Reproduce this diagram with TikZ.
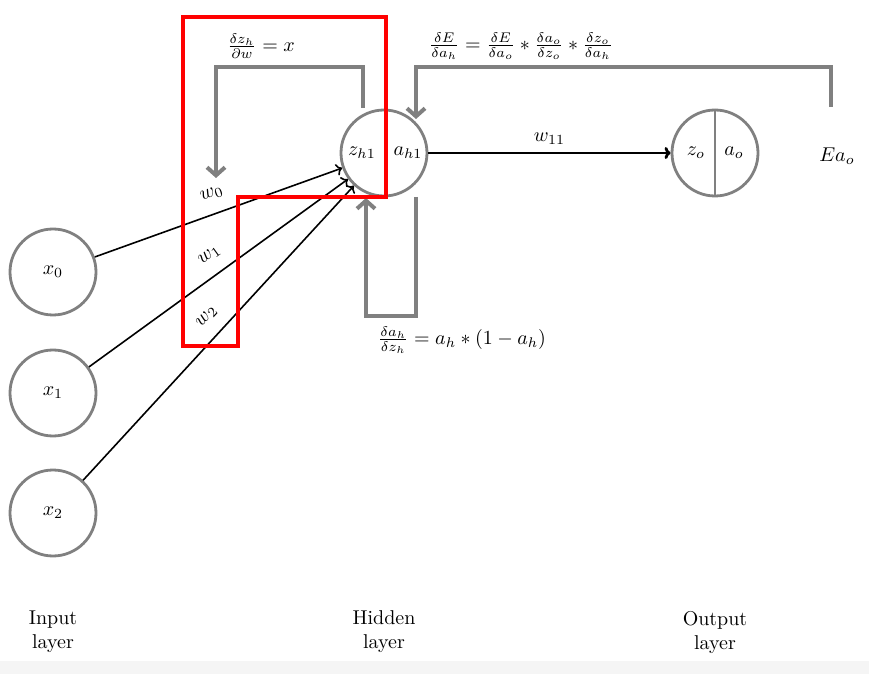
\documentclass[tikz,border=0pt]{standalone}
\usepackage{amsmath, amssymb}
\usepackage{tikz}
\usetikzlibrary{arrows.meta, positioning, calc}

\begin{document}
\begin{tikzpicture}[x=0.5pt, y=-0.5pt,
  neuron/.style={circle, draw=gray, line width=1.4pt, minimum size=43pt, inner sep=0pt},
  wire/.style={-{To[length=3pt, width=6pt]}, line width=0.8pt},
  grad/.style={draw=gray, line width=2pt, -{Straight Barb[length=4pt, width=9pt]}},
  focus/.style={draw=red, line width=2pt}
]
  \useasboundingbox (0,0) rectangle (869,674);
  \fill[black!4] (0,661) rectangle (869,674);

  % 入力層
  \foreach \i/\y in {0/272,1/393,2/513} {
    \node[neuron] (x\i) at (53,\y) {$x_\i$};
  }

  % 隠れ層
  \node[neuron] (h) at (384,153) {};
  \node (zh) at (362,153) {$z_{h1}$};
  \node (ah) at (408,153) {$a_{h1}$};

  % 出力層
  \node[neuron] (o) at (715,153) {};
  \draw[gray, line width=0.6pt] (o.north) -- (o.south);
  \node (zo) at (696,153) {$z_o$};
  \node (ao) at (734,153) {$a_o$};
  \node (E) at (837,156) {$Ea_o$};

  % 重み
  \foreach \i/\p in {0/0.50,1/0.51,2/0.51} {
    \draw[wire] (x\i) -- (h) node[pos=\p, sloped, above=3pt] (w\i) {$w_\i$};
  }
  \draw[wire, line width=1.4pt] (h) -- (o) node[midway, above] (w11) {$w_{11}$};

  % 逆伝播
  \coordinate (g1s) at (363,108);
  \coordinate (g1e) at (216,178);
  \draw[grad] (g1s) |- (216,67) -- (g1e);
  \node (dzdw) at (261,46) {$\frac{\delta z_h}{\partial w} = x$};

  \coordinate (g2s) at (831,107);
  \coordinate (g2e) at (416,119);
  \draw[grad] (g2s) |- (416,67) -- (g2e);
  \node (dEdah) at (521,46)
    {$\frac{\delta E}{\delta a_h} = \frac{\delta E}{\delta a_o} * \frac{\delta a_o}{\delta z_o} * \frac{\delta z_o}{\delta a_h}$};

  \coordinate (g3s) at (416,197);
  \coordinate (g3e) at (366,198);
  \draw[grad] (g3s) -- (416,316) -| (g3e);
  \node (dadz) at (462,340) {$\frac{\delta a_h}{\delta z_h} = a_h * (1 - a_h)$};

  % 層の名前
  \foreach \n/\x/\t in {lin/53/Input, lhid/384/Hidden, lout/715/Output} {
    \node[align=center] (\n) at (\x,632) {\t\\layer};
  }

  % 注目範囲
  \draw[focus] (183,17) -- (386,17) -- (386,197) -- (238,197)
    -- (238,346) -- (183,346) -- cycle;
\end{tikzpicture}
\end{document}
